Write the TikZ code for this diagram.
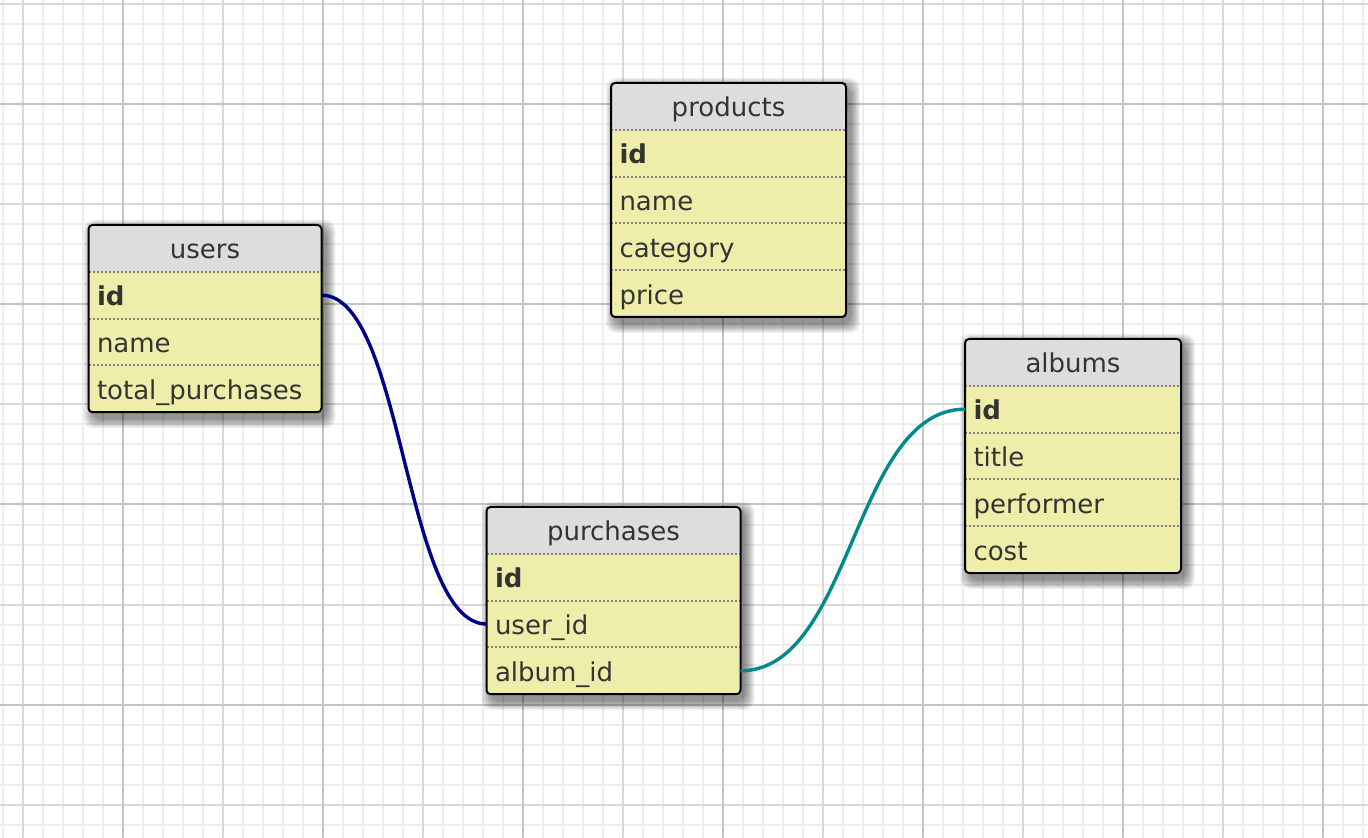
\documentclass[tikz,border=0pt]{standalone}
\usepackage{fontspec}
\setmainfont{DejaVu Sans}
\usetikzlibrary{positioning}
\definecolor{hdrgray}{HTML}{DDDDDD}
\definecolor{rowyellow}{HTML}{EEEEAA}
\definecolor{ink}{HTML}{333333}
\definecolor{gridminor}{HTML}{EEEEEE}
\definecolor{gridmid}{HTML}{D9D9D9}
\definecolor{gridmajor}{HTML}{C4C4C4}
\definecolor{navyref}{HTML}{000088}
\definecolor{tealref}{HTML}{008A8A}
\pgfdeclarelayer{paper}
\pgfdeclarelayer{shade}
\pgfsetlayers{paper,shade,main}
\begin{document}
\begin{tikzpicture}[x=0.5pt,y=-0.5pt,
    hdr/.style={fill=hdrgray,text=ink,font=\fontsize{13pt}{15pt}\selectfont,inner sep=0pt,outer sep=0pt,
        minimum width=#1,minimum height=23.4pt,text height=11.5pt,text depth=1pt},
    fld/.style={fill=rowyellow,text=ink,font=\fontsize{13pt}{15pt}\selectfont,inner xsep=4.25pt,inner ysep=0pt,
        outer sep=0pt,text width=#1,align=left,minimum height=23.4pt,text height=11.5pt,text depth=1pt},
    rowsep/.style={draw=gray,line width=1pt,dash pattern=on 1pt off 1pt},
    tblframe/.style={draw=black,line width=1pt,rounded corners=2pt},
    shadestep/.style={fill=black,fill opacity=0.05,rounded corners=5pt},
    fkey/.style={line width=1.7pt}]
    \useasboundingbox(0,0) rectangle (1368,838);
    % grid
    \begin{pgfonlayer}{paper}
        \fill[white](0,0) rectangle (1368,838);
        \foreach \gx in {2.5,22.5,...,1362.5}
            \draw[gridminor,line width=1pt](\gx,0) -- (\gx,838);
        \foreach \gy in {4.5,24.5,...,824.5}
            \draw[gridminor,line width=1pt](0,\gy) -- (1368,\gy);
        \foreach \gx in {22.5,222.5,...,1222.5}
            \draw[gridmid,line width=1pt](\gx,0) -- (\gx,838);
        \foreach \gy in {4.5,204.5,...,804.5}
            \draw[gridmid,line width=1pt](0,\gy) -- (1368,\gy);
        \foreach \gx in {122.5,322.5,...,1322.5}
            \draw[gridmajor,line width=1pt](\gx,0) -- (\gx,838);
        \foreach \gy in {104.5,304.5,...,704.5}
            \draw[gridmajor,line width=1pt](0,\gy) -- (1368,\gy);
    \end{pgfonlayer}

    % users
    \node[hdr=116.5pt,anchor=north west](users) at (88.5,225){users};
    \node[fld=108pt,below=0pt of users](users-id){\textbf{id}};
    \node[fld=108pt,below=0pt of users-id](users-name){name};
    \node[fld=108pt,below=0pt of users-name](users-total){total\_purchases};

    % products
    \node[hdr=117.5pt,anchor=north west](products) at (611,83){products};
    \node[fld=109pt,below=0pt of products](products-id){\textbf{id}};
    \node[fld=109pt,below=0pt of products-id](products-name){name};
    \node[fld=109pt,below=0pt of products-name](products-category){category};
    \node[fld=109pt,below=0pt of products-category](products-price){price};

    % albums
    \node[hdr=108pt,anchor=north west](albums) at (965,339){albums};
    \node[fld=99.5pt,below=0pt of albums](albums-id){\textbf{id}};
    \node[fld=99.5pt,below=0pt of albums-id](albums-title){title};
    \node[fld=99.5pt,below=0pt of albums-title](albums-performer){performer};
    \node[fld=99.5pt,below=0pt of albums-performer](albums-cost){cost};

    % purchases
    \node[hdr=127pt,anchor=north west](purchases) at (486.5,507){purchases};
    \node[fld=118.5pt,below=0pt of purchases](purchases-id){\textbf{id}};
    \node[fld=118.5pt,below=0pt of purchases-id](purchases-user){user\_id};
    \node[fld=118.5pt,below=0pt of purchases-user](purchases-album){album\_id};

    % shadows, row lines and frames
    \begin{pgfonlayer}{shade}
        \foreach \t/\l in {users/users-total,products/products-price,albums/albums-cost,purchases/purchases-album}
            \foreach \k in {1,...,10}
                \fill[shadestep]([shift={(5-\k,5-\k)}]\t.north west) rectangle ([shift={(4+\k,6+\k)}]\l.south east);
    \end{pgfonlayer}
    \foreach \r in {users-id,users-name,users-total,products-id,products-name,products-category,products-price,
        albums-id,albums-title,albums-performer,albums-cost,purchases-id,purchases-user,purchases-album}
        \draw[rowsep](\r.north west) -- (\r.north east);
    \foreach \t/\l in {users/users-total,products/products-price,albums/albums-cost,purchases/purchases-album}
        \draw[tblframe](\t.north west) rectangle (\l.south east);

    % references
    \draw[fkey,navyref](users-id.east) .. controls +(82.5,0) and +(-82.5,0) .. (purchases-user.west);
    \draw[fkey,tealref](purchases-album.east) .. controls +(112,0) and +(-112,0) .. (albums-id.west);
\end{tikzpicture}
\end{document}
